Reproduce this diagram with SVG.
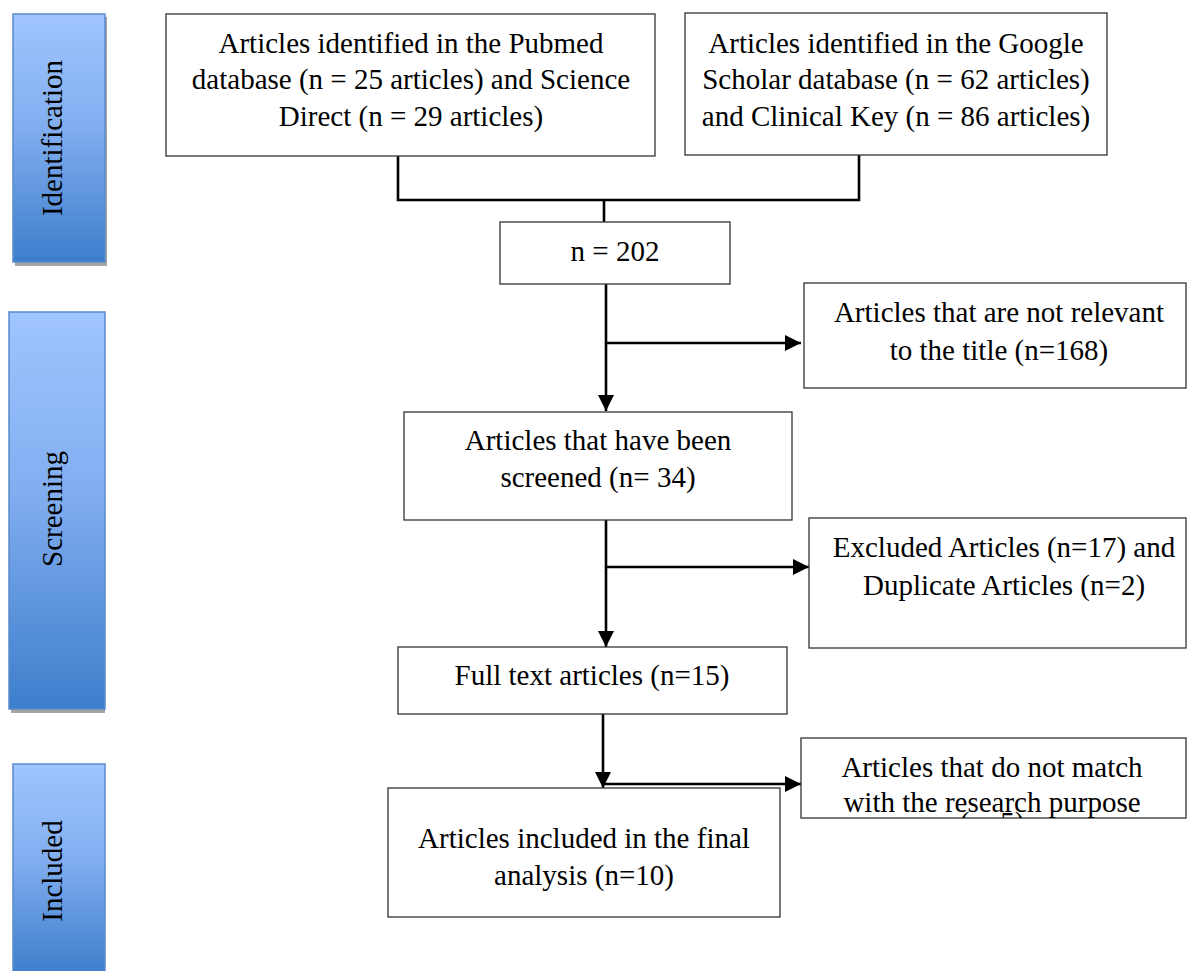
<svg xmlns="http://www.w3.org/2000/svg" width="1187" height="971" viewBox="0 0 1187 971">
<defs>
<linearGradient id="bar" x1="0" y1="0" x2="0" y2="1">
<stop offset="0" stop-color="#A0C5FF"/>
<stop offset="0.45" stop-color="#82AEF0"/>
<stop offset="1" stop-color="#3D7ECC"/>
</linearGradient>
<marker id="ah" markerUnits="userSpaceOnUse" markerWidth="16" markerHeight="16" viewBox="0 0 16 16" refX="16" refY="8" orient="auto">
<path d="M0,0 L16,8 L0,16 Z" fill="#000"/>
</marker>
<clipPath id="clipMatch"><rect x="801" y="738" width="386" height="80"/></clipPath>
</defs>
<style>
.box{fill:#fff;stroke:#333;stroke-width:1.3}
.t{font-family:"Liberation Serif","Times New Roman",serif;font-size:29px;fill:#000;text-anchor:middle}
.conn{fill:none;stroke:#000;stroke-width:2.6}
.barr{fill:url(#bar);stroke:#5A8BC9;stroke-width:1.5}
.shadow{fill:#A6A6A6}
</style>
<rect width="1187" height="971" fill="#fff"/>

<g id="phase-identification">
<rect class="shadow" x="15" y="17" width="92" height="249"/>
<rect class="barr" x="13" y="14" width="92" height="248"/>
<text class="t" transform="translate(62,138) rotate(-90)">Identification</text>
</g>
<g id="phase-screening">
<rect class="shadow" x="11" y="315" width="94" height="398"/>
<rect class="barr" x="9" y="312" width="96" height="397"/>
<text class="t" transform="translate(62,509) rotate(-90)">Screening</text>
</g>
<g id="phase-included">
<rect class="barr" x="13" y="764" width="92" height="210"/>
<text class="t" transform="translate(62,871) rotate(-90)">Included</text>
</g>

<g id="connectors">
<polyline class="conn" points="398,156 398,200 859,200 859,155"/>
<line class="conn" x1="604" y1="200" x2="604" y2="222"/>
<line class="conn" x1="606" y1="284" x2="606" y2="411" marker-end="url(#ah)"/>
<line class="conn" x1="606" y1="343" x2="801" y2="343" marker-end="url(#ah)"/>
<line class="conn" x1="606" y1="520" x2="606" y2="647" marker-end="url(#ah)"/>
<line class="conn" x1="606" y1="567" x2="809" y2="567" marker-end="url(#ah)"/>
<line class="conn" x1="603" y1="714" x2="603" y2="788" marker-end="url(#ah)"/>
<line class="conn" x1="603" y1="784" x2="801" y2="784" marker-end="url(#ah)"/>
</g>

<g id="node-pubmed">
<rect class="box" x="166" y="14" width="489" height="142"/>
<text class="t" x="411" y="53">Articles identified in the Pubmed</text>
<text class="t" x="411" y="89">database (n = 25 articles) and Science</text>
<text class="t" x="411" y="126">Direct (n = 29 articles)</text>
</g>
<g id="node-google">
<rect class="box" x="685" y="13" width="422" height="142"/>
<text class="t" x="896" y="53">Articles identified in the Google</text>
<text class="t" x="896" y="89">Scholar database (n = 62 articles)</text>
<text class="t" x="896" y="126">and Clinical Key (n = 86 articles)</text>
</g>
<g id="node-total">
<rect class="box" x="500" y="222" width="230" height="62"/>
<text class="t" x="615" y="261">n = 202</text>
</g>
<g id="node-notrelevant">
<rect class="box" x="804" y="283" width="382" height="105"/>
<text class="t" x="999" y="322">Articles that are not relevant</text>
<text class="t" x="999" y="360">to the title (n=168)</text>
</g>
<g id="node-screened">
<rect class="box" x="404" y="412" width="388" height="108"/>
<text class="t" x="598" y="450">Articles that have been</text>
<text class="t" x="598" y="487">screened (n= 34)</text>
</g>
<g id="node-excluded">
<rect class="box" x="809" y="518" width="377" height="130"/>
<text class="t" x="1004" y="557">Excluded Articles (n=17) and</text>
<text class="t" x="1004" y="595">Duplicate Articles (n=2)</text>
</g>
<g id="node-fulltext">
<rect class="box" x="398" y="647" width="389" height="67"/>
<text class="t" x="592" y="685">Full text articles (n=15)</text>
</g>
<g id="node-nomatch">
<rect class="box" x="801" y="738" width="385" height="80"/>
<g clip-path="url(#clipMatch)">
<text class="t" x="992" y="777">Articles that do not match</text>
<text class="t" x="992" y="812">with the research purpose</text>
<text class="t" x="992" y="832">(n=5)</text>
</g>
</g>
<g id="node-final">
<rect class="box" x="388" y="788" width="392" height="129"/>
<text class="t" x="584" y="848">Articles included in the final</text>
<text class="t" x="584" y="885">analysis (n=10)</text>
</g>
</svg>
